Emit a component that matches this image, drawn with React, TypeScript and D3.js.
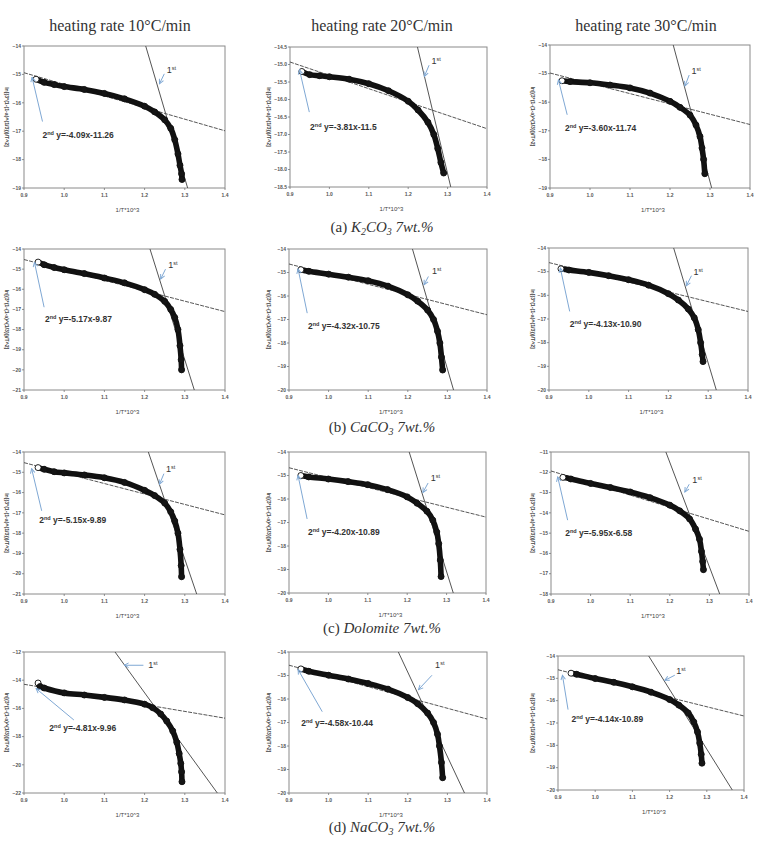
import React from 'react';
import * as d3 from 'd3';

type Pt = [number, number];

// ln[3(1-(1-a)^(1/3))/T^2] against 1/T*10^3, one array per additive and heating rate
const k2co3_10: Pt[] = [[0.93, -15.17], [0.95, -15.28], [0.975, -15.36], [1.0, -15.43], [1.05, -15.53], [1.1, -15.67], [1.15, -15.86], [1.2, -16.12], [1.225, -16.32], [1.25, -16.6], [1.265, -16.9], [1.275, -17.3], [1.283, -17.8], [1.288, -18.2], [1.292, -18.5], [1.293, -18.7]];
const k2co3_20: Pt[] = [[0.93, -15.2], [0.95, -15.29], [0.975, -15.32], [1.0, -15.35], [1.05, -15.42], [1.1, -15.55], [1.15, -15.75], [1.2, -16.05], [1.225, -16.3], [1.25, -16.65], [1.265, -17.0], [1.275, -17.4], [1.283, -17.8], [1.29, -18.1]];
const k2co3_30: Pt[] = [[0.93, -15.25], [0.95, -15.28], [1.0, -15.32], [1.05, -15.4], [1.1, -15.5], [1.15, -15.68], [1.2, -15.97], [1.225, -16.18], [1.25, -16.45], [1.265, -16.8], [1.275, -17.2], [1.28, -17.6], [1.284, -18.0], [1.287, -18.5]];

const caco3_10: Pt[] = [[0.935, -14.65], [0.95, -14.78], [0.975, -14.92], [1.0, -15.03], [1.05, -15.22], [1.1, -15.44], [1.15, -15.68], [1.2, -16.02], [1.225, -16.25], [1.25, -16.6], [1.265, -17.0], [1.275, -17.4], [1.283, -18.0], [1.288, -18.8], [1.291, -19.5], [1.292, -20.0]];
const caco3_20: Pt[] = [[0.93, -14.88], [0.95, -14.95], [1.0, -15.07], [1.05, -15.2], [1.1, -15.35], [1.15, -15.58], [1.2, -15.95], [1.225, -16.22], [1.25, -16.6], [1.265, -17.0], [1.275, -17.5], [1.281, -18.0], [1.285, -18.6], [1.288, -19.15]];
const caco3_30: Pt[] = [[0.93, -14.88], [0.95, -14.93], [1.0, -15.03], [1.05, -15.17], [1.1, -15.34], [1.15, -15.57], [1.2, -15.93], [1.225, -16.2], [1.25, -16.58], [1.265, -16.95], [1.275, -17.45], [1.281, -18.0], [1.285, -18.5], [1.287, -18.8]];

const dolomite_10: Pt[] = [[0.935, -14.77], [0.95, -14.85], [0.975, -14.97], [1.0, -15.03], [1.05, -15.13], [1.1, -15.27], [1.15, -15.5], [1.2, -15.89], [1.225, -16.15], [1.25, -16.52], [1.265, -16.95], [1.275, -17.4], [1.283, -18.0], [1.288, -18.8], [1.291, -19.6], [1.292, -20.15]];
const dolomite_20: Pt[] = [[0.93, -15.0], [0.95, -15.06], [1.0, -15.15], [1.05, -15.26], [1.1, -15.39], [1.15, -15.6], [1.2, -15.91], [1.225, -16.18], [1.25, -16.52], [1.265, -16.9], [1.275, -17.4], [1.28, -17.9], [1.284, -18.6], [1.286, -19.3]];
const dolomite_30: Pt[] = [[0.93, -12.25], [0.95, -12.33], [1.0, -12.55], [1.05, -12.75], [1.1, -12.97], [1.15, -13.25], [1.2, -13.62], [1.225, -13.9], [1.25, -14.3], [1.265, -14.8], [1.275, -15.3], [1.28, -15.9], [1.283, -16.4], [1.285, -16.8]];

const naco3_10: Pt[] = [[0.935, -14.2], [0.94, -14.45], [0.95, -14.55], [1.0, -14.9], [1.05, -15.05], [1.1, -15.22], [1.15, -15.4], [1.2, -15.7], [1.22, -15.95], [1.24, -16.4], [1.255, -16.9], [1.27, -17.6], [1.28, -18.4], [1.286, -19.2], [1.29, -19.9], [1.292, -20.5], [1.293, -21.2]];
const naco3_20: Pt[] = [[0.93, -14.72], [0.95, -14.82], [1.0, -14.99], [1.05, -15.15], [1.1, -15.34], [1.15, -15.58], [1.2, -15.94], [1.225, -16.2], [1.25, -16.6], [1.265, -17.0], [1.275, -17.5], [1.28, -18.0], [1.285, -18.7], [1.288, -19.35]];
const naco3_30: Pt[] = [[0.935, -14.77], [0.95, -14.82], [1.0, -15.01], [1.05, -15.18], [1.1, -15.38], [1.15, -15.62], [1.2, -15.95], [1.225, -16.2], [1.25, -16.55], [1.265, -16.95], [1.275, -17.4], [1.281, -17.9], [1.285, -18.4], [1.287, -18.8]];

const series = [k2co3_10, k2co3_20, k2co3_30, caco3_10, caco3_20, caco3_30, dolomite_10, dolomite_20, dolomite_30, naco3_10, naco3_20, naco3_30];

// 2nd-stage fits (dashed) and 1st-stage fits (solid)
const secondSlope = [-4.09, -3.81, -3.60, -5.17, -4.32, -4.13, -5.15, -4.20, -5.95, -4.81, -4.58, -4.14];
const secondIntercept = [-11.26, -11.5, -11.74, -9.87, -10.75, -10.90, -9.89, -10.89, -6.58, -9.96, -10.44, -10.89];
const interceptDigits = [2, 1, 2, 2, 2, 2, 2, 2, 2, 2, 2, 2];
const firstSlope = [-47.9, -47.3, -52.0, -63.5, -57.8, -56.0, -58.2, -53.6, -51.5, -39.3, -35.9, -26.7];
const firstIntercept = [43.61, 43.37, 48.82, 63.05, 56.04, 53.94, 56.38, 50.59, 50.29, 32.27, 28.22, 16.54];

const yDomains: Pt[] = [[-19, -14], [-18.5, -14.5], [-19, -14], [-21, -14], [-20, -14], [-20, -14], [-21, -14], [-20, -14], [-18, -11], [-22, -12], [-20, -14], [-20, -14]];
const yStep = [1, 0.5, 1, 1, 1, 1, 1, 1, 1, 2, 1, 1];
const xTicks = [0.9, 1.0, 1.1, 1.2, 1.3, 1.4];

const heatingRates = ['10', '20', '30'];
const captionLetters = ['a', 'b', 'c', 'd'];

// annotation anchors in data units
const secondTextPos: Pt[] = [[0.946, -17.13], [0.951, -16.79], [0.9375, -16.91], [0.952, -17.48], [0.948, -17.27], [0.952, -17.22], [0.938, -17.33], [0.948, -17.42], [0.936, -14.98], [0.963, -17.41], [0.931, -17.01], [0.936, -16.8]];
const secondArrow: [Pt, Pt][] = [
  [[0.946, -16.66], [0.92, -15.1]], [[0.949, -16.36], [0.924, -15.15]], [[0.943, -16.44], [0.921, -15.22]],
  [[0.95, -16.89], [0.926, -14.66]], [[0.946, -16.73], [0.923, -14.85]], [[0.952, -16.68], [0.9285, -14.85]],
  [[0.944, -16.9], [0.919, -14.82]], [[0.946, -16.85], [0.923, -15.0]], [[0.942, -14.36], [0.917, -12.23]],
  [[1.024, -16.82], [0.93, -14.59]], [[0.984, -16.54], [0.923, -14.75]], [[0.927, -16.4], [0.912, -14.86]],
];
const firstTextPos: Pt[] = [[1.255, -14.84], [1.259, -14.9], [1.254, -14.91], [1.259, -14.78], [1.261, -14.95], [1.263, -14.99], [1.253, -14.82], [1.26, -15.1], [1.257, -12.36], [1.209, -12.94], [1.269, -14.56], [1.218, -14.68]];
const firstArrow: [Pt, Pt][] = [
  [[1.249, -14.98], [1.237, -15.33]], [[1.253, -15.02], [1.241, -15.34]], [[1.248, -15.05], [1.2375, -15.43]],
  [[1.252, -15.0], [1.24, -15.49]], [[1.252, -15.17], [1.241, -15.52]], [[1.258, -15.17], [1.245, -15.6]],
  [[1.248, -15.07], [1.237, -15.59]], [[1.253, -15.32], [1.24, -15.72]], [[1.249, -12.59], [1.238, -12.97]],
  [[1.197, -12.94], [1.149, -12.94]], [[1.261, -14.99], [1.227, -15.6]], [[1.214, -14.86], [1.187, -15.09]],
];

// plot-area boxes: left, top, width, height
const frames = [
  [24, 46, 201, 142], [290, 47, 197, 140], [550, 45, 200, 143],
  [24, 249, 201, 141], [289, 249, 198, 141], [549, 248, 199, 142],
  [24, 452, 201, 142], [289, 452, 197, 141], [551, 452, 198, 142],
  [24, 652, 201, 141], [289, 652, 198, 141], [558, 656, 186, 134],
];
const yLabelX = [4, 266, 530];
const titleX = [120, 382, 646];
const captionY = [232, 432, 633, 832];

const W = 763;
const H = 842;
const sans = 'Liberation Sans, Arial, sans-serif';
const serif = 'Liberation Serif, Times New Roman, serif';
const arrowBlue = '#7fa8d4';

function Panel({ i }: { i: number }) {
  const [left, top, w, h] = frames[i];
  const x = d3.scaleLinear().domain([0.9, 1.4]).range([left, left + w]);
  const y = d3.scaleLinear().domain(yDomains[i]).range([top + h, top]);
  const [lo, hi] = yDomains[i];
  const yTicks = d3.range(lo, hi + 1e-9, yStep[i]);
  const fmtY = yStep[i] < 1 ? d3.format('.1f') : d3.format('d');
  const line = d3.line<Pt>().x(d => x(d[0])).y(d => y(d[1]));
  const curve = d3.line<Pt>().x(d => x(d[0])).y(d => y(d[1])).curve(d3.curveCatmullRom.alpha(0.5));
  const data = series[i];
  const clipId = `clip-${i}`;
  const secondLine: Pt[] = [0.9, 1.4].map(v => [v, secondSlope[i] * v + secondIntercept[i]]);
  const firstLine: Pt[] = [0.9, 1.4].map(v => [v, firstSlope[i] * v + firstIntercept[i]]);
  const col = i % 3;
  const eq = `y=${secondSlope[i].toFixed(2)}x${secondIntercept[i].toFixed(interceptDigits[i])}`;

  return (
    <g>
      <defs>
        <clipPath id={clipId}>
          <rect x={left} y={top} width={w} height={h} />
        </clipPath>
      </defs>
      <rect x={left} y={top} width={w} height={h} fill="#fff" stroke="#8a8a8a" strokeWidth={1} />
      {yTicks.map(t => (
        <g key={`y${t}`}>
          <line x1={left - 2} x2={left} y1={y(t)} y2={y(t)} stroke="#777" strokeWidth={0.8} />
          <text x={left - 3} y={y(t)} dy="0.35em" textAnchor="end" fontSize={5} fontFamily={sans} fontWeight="bold" fill="#555">
            {fmtY(t)}
          </text>
        </g>
      ))}
      {xTicks.map(t => (
        <g key={`x${t}`}>
          <line x1={x(t)} x2={x(t)} y1={top + h} y2={top + h + 2} stroke="#777" strokeWidth={0.8} />
          <text x={x(t)} y={top + h + 9} textAnchor="middle" fontSize={5} fontFamily={sans} fontWeight="bold" fill="#555">
            {d3.format('.1f')(t)}
          </text>
        </g>
      ))}
      <text x={left + w / 2 + 3} y={top + h + 24} textAnchor="middle" fontSize={6} fontFamily={sans} fill="#444">
        1/T*10^3
      </text>
      <text
        transform={`translate(${yLabelX[col]},${top + h / 2}) rotate(90)`}
        textAnchor="middle"
        dy="-0.2em"
        fontSize={5.2}
        fontFamily={sans}
        fontWeight="bold"
        fill="#444"
      >
        ln[(3*(1-(1-a)^(1/3)))/T^2]
      </text>
      <g clipPath={`url(#${clipId})`}>
        <path d={line(secondLine) ?? ''} stroke="#444" strokeWidth={0.9} strokeDasharray="4,1.2" fill="none" />
        <path d={line(firstLine) ?? ''} stroke="#555" strokeWidth={1} fill="none" />
        <path d={curve(data) ?? ''} stroke="#111" strokeWidth={5.6} strokeLinecap="round" strokeLinejoin="round" fill="none" />
        {data.map((d, k) => (
          <circle key={k} cx={x(d[0])} cy={y(d[1])} r={3} fill={k === 0 ? '#fff' : '#151515'} stroke="#111" strokeWidth={0.9} />
        ))}
      </g>
      <line
        x1={x(secondArrow[i][0][0])}
        y1={y(secondArrow[i][0][1])}
        x2={x(secondArrow[i][1][0])}
        y2={y(secondArrow[i][1][1])}
        stroke={arrowBlue}
        strokeWidth={1}
        markerEnd="url(#arrowhead)"
      />
      <line
        x1={x(firstArrow[i][0][0])}
        y1={y(firstArrow[i][0][1])}
        x2={x(firstArrow[i][1][0])}
        y2={y(firstArrow[i][1][1])}
        stroke={arrowBlue}
        strokeWidth={1}
        markerEnd="url(#arrowhead)"
      />
      <text x={x(secondTextPos[i][0])} y={y(secondTextPos[i][1])} dy="0.35em" fontSize={8.5} fontFamily={sans} fontWeight="bold" fill="#333">
        2<tspan fontSize={5.5} dy="-3">nd</tspan>
        <tspan dy="3"> {eq}</tspan>
      </text>
      <text x={x(firstTextPos[i][0])} y={y(firstTextPos[i][1])} dy="0.35em" fontSize={9} fill="#333" fontFamily={sans}>
        1<tspan fontSize={5.5} dy="-3">st</tspan>
      </text>
    </g>
  );
}

function Caption({ row }: { row: number }) {
  const yPos = captionY[row];
  const letter = captionLetters[row];
  const sub = { fontSize: 10, dy: 3 };
  let body: React.ReactNode;
  if (row === 0) {
    body = (
      <>
        <tspan fontStyle="italic">K</tspan>
        <tspan fontStyle="italic" fontSize={sub.fontSize} dy={sub.dy}>2</tspan>
        <tspan fontStyle="italic" dy={-sub.dy}>CO</tspan>
        <tspan fontStyle="italic" fontSize={sub.fontSize} dy={sub.dy}>3</tspan>
        <tspan fontStyle="italic" dy={-sub.dy}> 7wt.%</tspan>
      </>
    );
  } else if (row === 1) {
    body = (
      <>
        <tspan fontStyle="italic">CaCO</tspan>
        <tspan fontStyle="italic" fontSize={sub.fontSize} dy={sub.dy}>3</tspan>
        <tspan fontStyle="italic" dy={-sub.dy}> 7wt.%</tspan>
      </>
    );
  } else if (row === 2) {
    body = <tspan fontStyle="italic">Dolomite 7wt.%</tspan>;
  } else {
    body = (
      <>
        <tspan fontStyle="italic">NaCO</tspan>
        <tspan fontStyle="italic" fontSize={sub.fontSize} dy={sub.dy}>3</tspan>
        <tspan fontStyle="italic" dy={-sub.dy}> 7wt.%</tspan>
      </>
    );
  }
  return (
    <text x={382} y={yPos} textAnchor="middle" fontSize={15} fontFamily={serif} fill="#333">
      <tspan>({letter})  </tspan>
      {body}
    </text>
  );
}

export default function App() {
  return (
    <svg width={W} height={H} style={{ position: 'absolute', left: 0, top: 0, background: '#fff' }}>
      <defs>
        <marker id="arrowhead" viewBox="0 0 8 8" refX={7} refY={4} markerWidth={6} markerHeight={6} orient="auto" markerUnits="userSpaceOnUse">
          <path d="M1,1 L7,4 L1,7" fill="none" stroke={arrowBlue} strokeWidth={1.3} />
        </marker>
      </defs>
      <rect width={W} height={H} fill="#fff" />
      {heatingRates.map((r, c) => (
        <text key={r} x={titleX[c]} y={31} textAnchor="middle" fontSize={16} fontFamily={serif} fill="#333">
          heating rate {r}°C/min
        </text>
      ))}
      {series.map((_, i) => (
        <Panel key={i} i={i} />
      ))}
      {captionLetters.map((_, r) => (
        <Caption key={r} row={r} />
      ))}
    </svg>
  );
}
